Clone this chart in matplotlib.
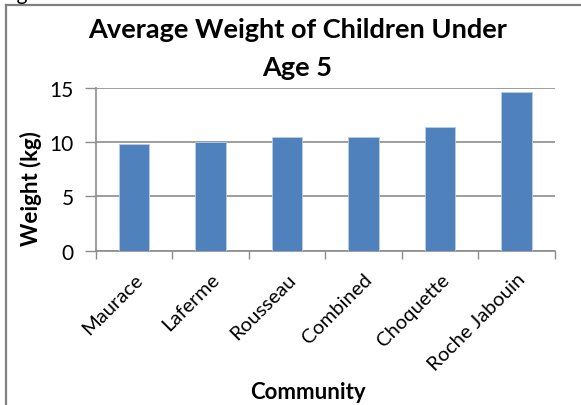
import numpy as np
import matplotlib.pyplot as plt
from matplotlib.lines import Line2D

# ============= data =============================
communities = ['Maurace', 'Laferme', 'Rousseau', 'Combined', 'Choquette', 'Roche Jabouin']
weights = [9.83, 10.0, 10.45, 10.45, 11.37, 14.6]
y_ticks = [0, 5, 10, 15]

plt.rcParams['font.family'] = ['Lato', 'DejaVu Sans']
grey = '#8c8c8c'

fig = plt.figure(figsize=(5.81, 4.06), dpi=100)
ax = fig.add_axes([0.165, 0.380, 0.790, 0.401])

x = np.arange(len(communities))
ax.bar(x, weights, width=0.4, color='#4f81bd', edgecolor='#b9cde5', linewidth=0.6, zorder=3)

ax.set_xlim(-0.5, len(communities) - 0.5)
ax.set_ylim(0, 15)
ax.set_yticks(y_ticks)
ax.yaxis.grid(True, color=grey, linewidth=1.2, zorder=0)

# category ticks sit between the bars
ax.set_xticks(np.arange(len(communities) + 1) - 0.5)
ax.set_xticklabels([])
ax.set_xticks(x, minor=True)
ax.set_xticklabels(communities, minor=True, rotation=45, ha='right',
                   rotation_mode='anchor', fontsize=14.5)
ax.tick_params(axis='x', which='minor', length=0, pad=14)
ax.tick_params(axis='x', which='major', length=6, color=grey, width=1)
ax.tick_params(axis='y', length=8, color=grey, width=1, labelsize=15, pad=8)

for side in ['top', 'right']:
    ax.spines[side].set_visible(False)
for side in ['left', 'bottom']:
    ax.spines[side].set_color(grey)
    ax.spines[side].set_linewidth(1.2)

ax.set_ylabel('Weight (kg)', fontsize=16, fontweight='bold')
ax.yaxis.set_label_coords(-0.142, 0.385)
ax.yaxis.label.set_va('center')
ax.set_xlabel('Community', fontsize=16, fontweight='bold')
ax.xaxis.set_label_coords(0.462, -0.862)
ax.xaxis.label.set_va('center')

fig.text(0.512, 0.925, 'Average Weight of Children Under', ha='center', va='center',
         fontsize=19.5, fontweight='bold')
fig.text(0.512, 0.832, 'Age 5', ha='center', va='center', fontsize=19.5, fontweight='bold')

# chart frame (top and left edges)
fig.add_artist(Line2D([0.0103, 1.0], [0.985, 0.985], color='#808080', linewidth=1.6))
fig.add_artist(Line2D([0.0103, 0.0103], [0.0, 0.985], color='#808080', linewidth=1.6))

# caption above the chart, cut off at the top
fig.text(0.0, 1.0, 'Figure', fontsize=15, va='baseline', ha='left')

fig.savefig('out.png', dpi=100)
